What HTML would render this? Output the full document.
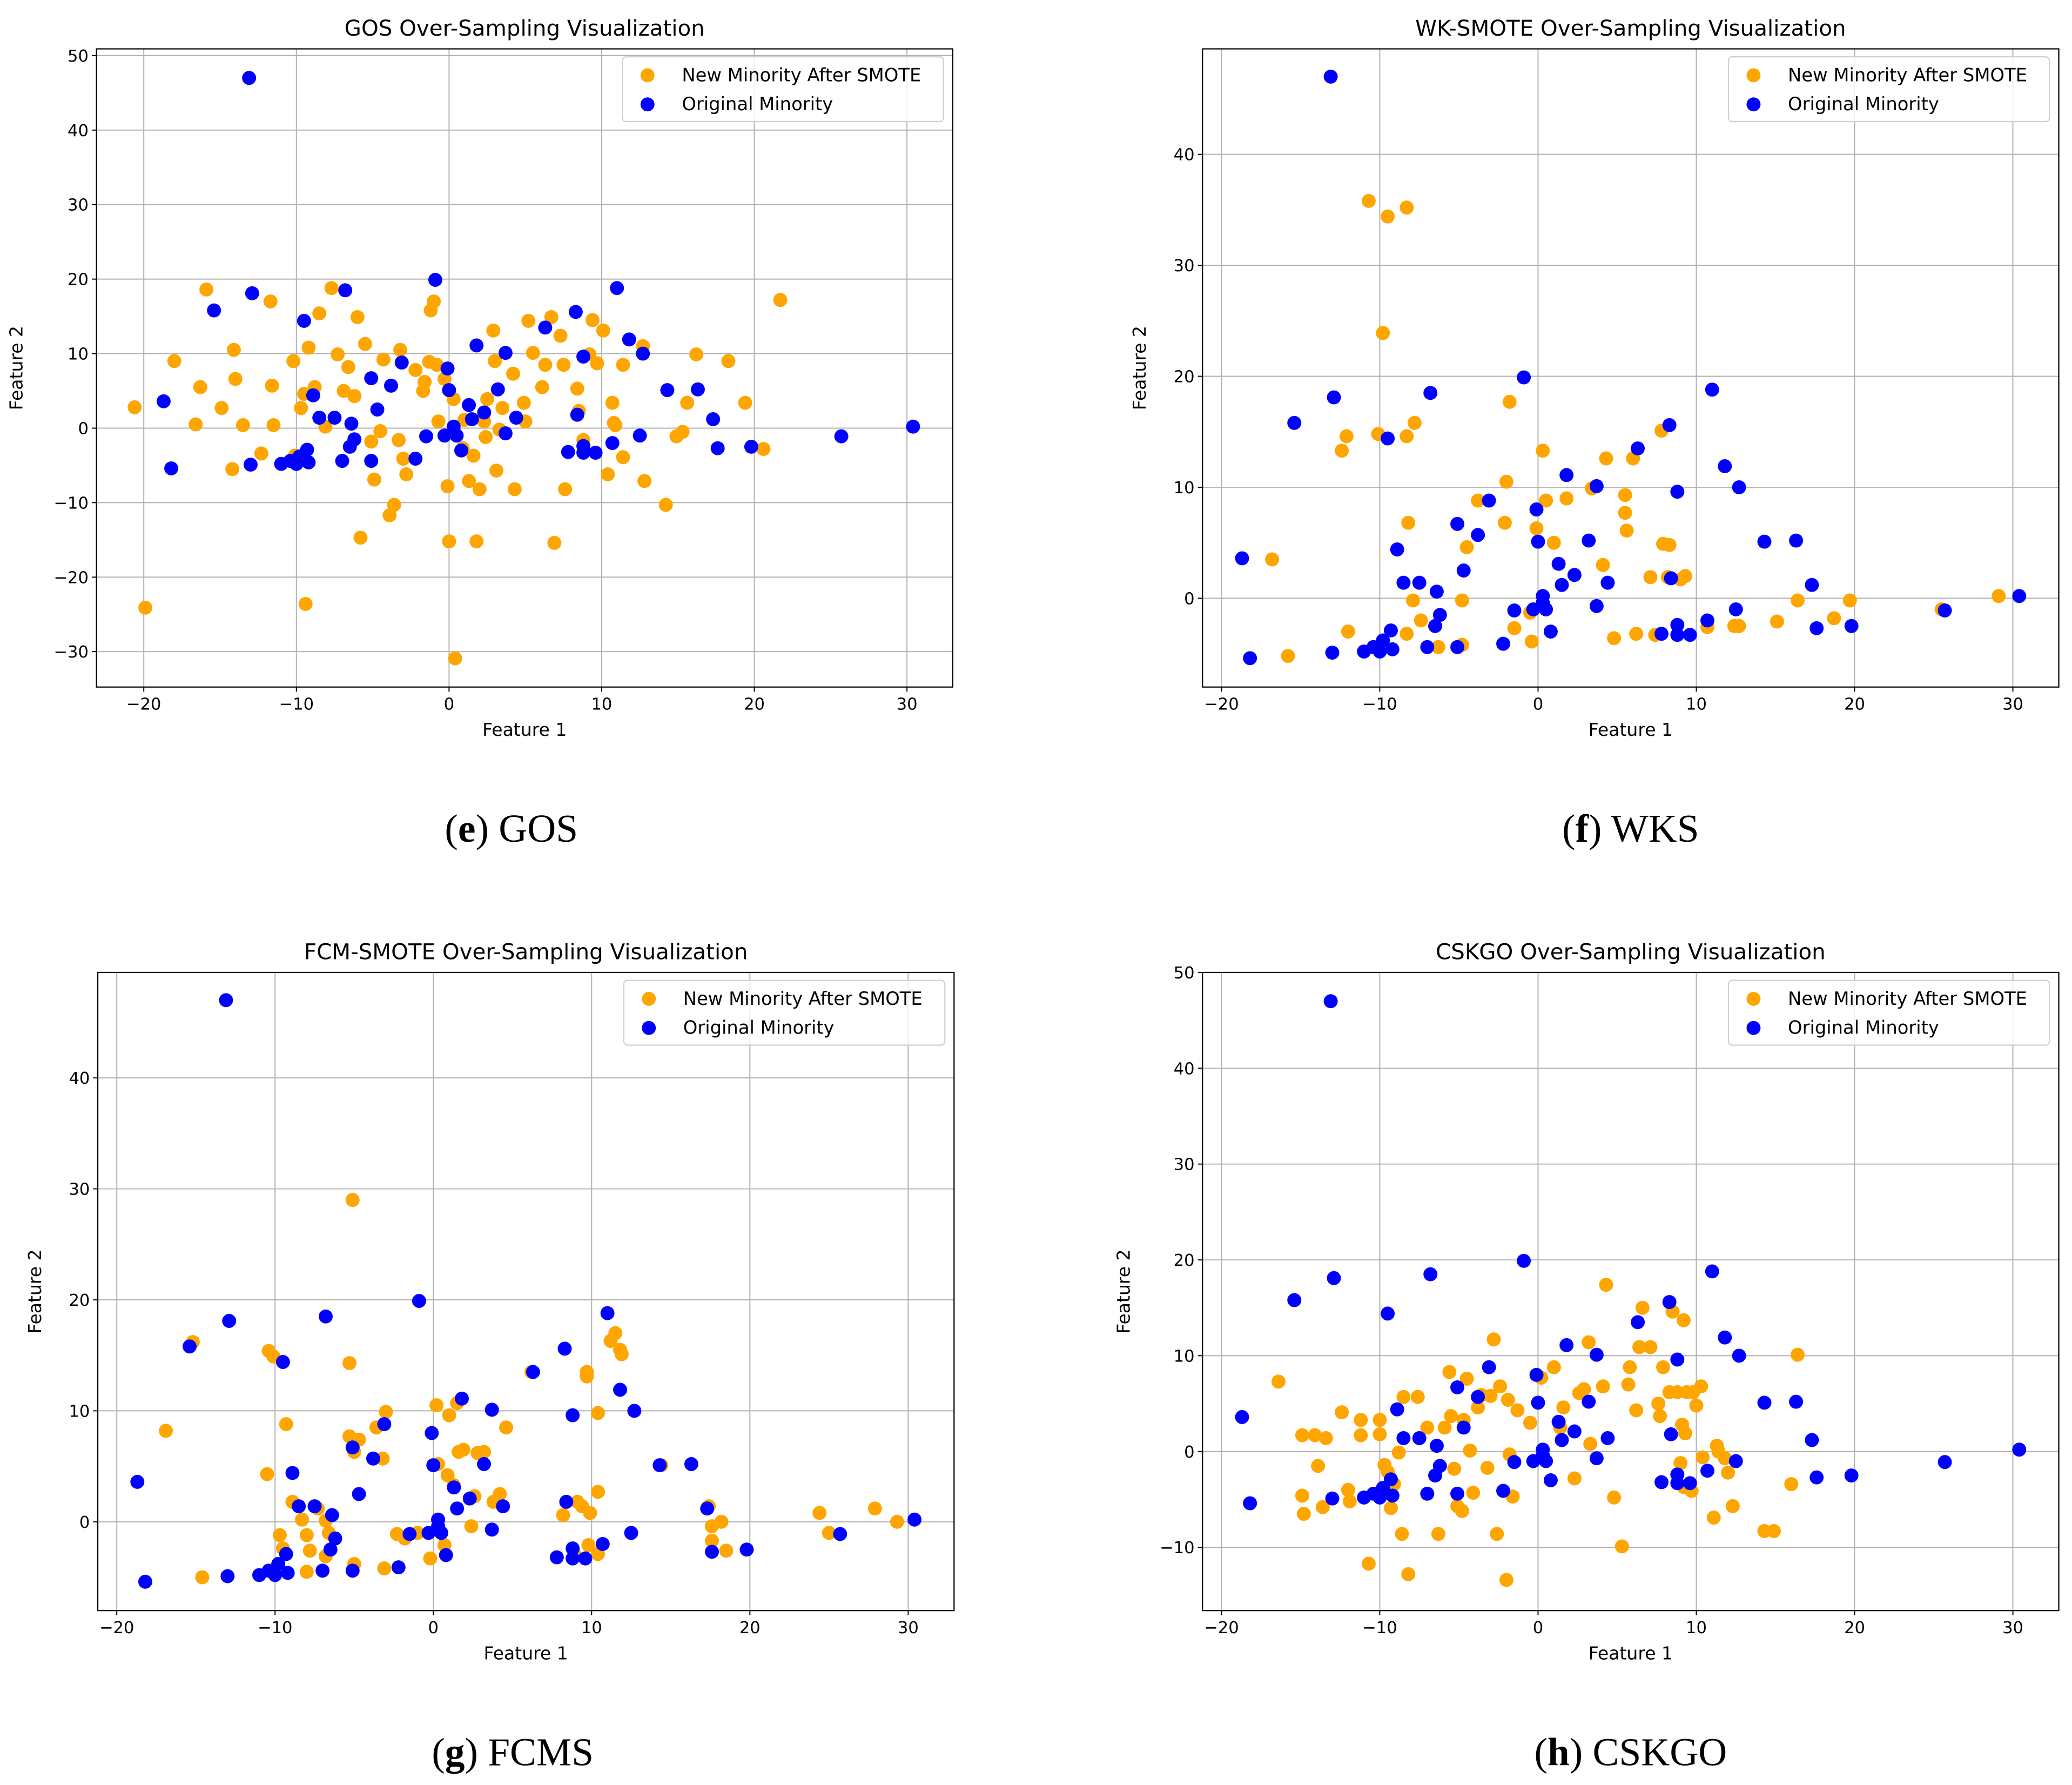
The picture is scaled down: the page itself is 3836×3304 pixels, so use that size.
<!DOCTYPE html>
<html><head><meta charset="utf-8">
<style>
html,body{margin:0;padding:0;background:#fff;}
svg{display:block;}
text{font-family:"DejaVu Sans","Liberation Sans",sans-serif;fill:#000;}
.cap{font-family:"Liberation Serif",serif;}
</style></head>
<body>
<svg id="fig" width="3836" height="3304" viewBox="0 0 1568 1351" preserveAspectRatio="none" xmlns="http://www.w3.org/2000/svg"></svg>
<script>
// Original minority (shared across panels)
const blueX=[-13.1,-18.7,-18.2,-12.9,-15.4,-9.5,-6.8,-0.9,-8.9,-8.5,-7.5,-6.4,-6.2,-6.5,-7.0,-9.3,-9.8,-10.0,-10.4,-11.0,-9.2,-13.0,-5.1,-3.8,-3.1,-4.7,-5.1,-2.2,-1.5,-0.3,-0.1,0,0.3,0.3,0.5,0.8,1.3,1.5,1.8,2.3,3.2,3.7,3.7,4.4,6.3,8.3,7.8,8.4,8.8,8.8,8.8,9.6,10.7,11.0,11.8,12.5,12.7,14.3,16.3,17.3,17.6,19.8,25.7,30.4];
const blueY=[47.0,3.6,-5.4,18.1,15.8,14.4,18.5,19.9,4.4,1.4,1.4,0.6,-1.5,-2.5,-4.4,-2.9,-3.8,-4.8,-4.4,-4.8,-4.6,-4.9,6.7,5.7,8.8,2.5,-4.4,-4.1,-1.1,-1.0,8.0,5.1,0.2,-0.4,-1.0,-3.0,3.1,1.2,11.1,2.1,5.2,10.1,-0.7,1.4,13.5,15.6,-3.2,1.8,9.6,-2.4,-3.3,-3.3,-2.0,18.8,11.9,-1.0,10.0,5.1,5.2,1.2,-2.7,-2.5,-1.1,0.2];
// GOS new minority
const gosX=[-20.6,-19.9,-18.0,-16.6,-16.3,-15.9,-14.9,-14.2,-14.1,-14.0,-13.5,-12.3,-11.7,-11.6,-11.5,-10.2,-10.1,-9.7,-9.5,-9.4,-9.2,-8.8,-8.5,-8.1,-7.7,-7.3,-6.9,-6.6,-6.2,-6.0,-5.8,-5.5,-5.1,-4.9,-4.5,-4.3,-3.9,-3.6,-3.3,-3.0,-2.8,-3.2,-2.2,-1.7,-1.6,-1.3,-1.2,-1.0,-0.8,-0.7,-0.3,-0.1,0,0.3,0.4,0.9,1.0,1.3,1.6,1.8,2.0,2.3,2.4,2.5,2.9,3.0,3.1,3.3,3.5,4.2,4.3,4.9,5.0,5.2,5.5,6.1,6.3,6.7,6.9,7.3,7.5,7.6,8.4,8.5,8.8,9.2,9.4,9.7,10.1,10.4,10.7,10.8,10.9,11.4,11.4,12.7,12.8,14.2,14.9,15.3,15.6,16.2,18.3,19.4,20.6,21.7];
const gosY=[2.8,-24.1,9.0,0.5,5.5,18.6,2.7,-5.5,10.5,6.6,0.4,-3.4,17.0,5.7,0.4,9.0,-3.7,2.7,4.6,-23.6,10.8,5.5,15.4,0.2,18.8,9.9,5.0,8.2,4.3,14.9,-14.7,11.3,-1.8,-6.9,-0.4,9.2,-11.7,-10.3,-1.6,-4.1,-6.2,10.5,7.8,5.0,6.2,8.9,15.8,17.0,8.5,0.9,6.6,-7.8,-15.2,3.9,-30.9,-2.7,1.1,-7.1,-3.7,-15.2,-8.2,0.9,-1.2,3.9,13.1,9.0,-5.7,-0.2,2.7,7.3,-8.2,3.4,0.9,14.4,10.1,5.5,8.5,14.9,-15.4,12.4,8.5,-8.2,5.3,2.3,-1.6,9.9,14.5,8.7,13.1,-6.2,3.4,0.7,0.4,8.5,-3.9,11.0,-7.1,-10.3,-1.1,-0.5,3.4,9.9,9.0,3.4,-2.8,17.2];
// WKS new minority
const wksX=[-10.7,-9.5,-8.3,-9.8,-16.8,-15.8,-12.4,-12.1,-10.1,-8.3,-7.8,-1.8,-12.0,-8.2,-7.9,-7.4,-8.3,-6.3,-4.8,-3.8,-4.5,-4.8,-2.0,-2.1,-1.5,-0.5,-0.4,-0.1,0.3,0.5,1.0,1.8,3.4,4.3,4.1,4.8,5.5,5.5,5.6,6.0,6.2,7.1,7.4,7.8,7.9,8.3,8.2,9.0,9.3,10.7,12.4,12.7,15.1,16.4,18.7,19.7,25.5,29.1];
const wksY=[35.8,34.4,35.2,23.9,3.5,-5.2,13.3,14.6,14.8,14.6,15.8,17.7,-3.0,6.8,-0.2,-2.0,-3.2,-4.4,-4.2,8.8,4.6,-0.2,10.5,6.8,-2.7,-1.3,-3.9,6.3,13.3,8.8,5.0,9.0,9.9,12.6,3.0,-3.6,9.3,7.7,6.1,12.6,-3.2,1.9,-3.3,15.1,4.9,4.8,1.9,1.7,2.0,-2.6,-2.5,-2.5,-2.1,-0.2,-1.8,-0.2,-1.0,0.2];
// FCMS new minority
const fcmX=[-5.1,-15.2,-16.9,-10.4,-10.1,-10.5,-9.3,-5.3,-5.3,-4.7,-5.0,-3.6,-3.0,-3.2,-14.6,-9.7,-9.5,-8.9,-8.3,-8.0,-7.8,-8.0,-7.3,-6.8,-6.6,-6.8,-5.0,-3.1,-2.3,-1.8,-1.0,-0.2,0.2,0.3,0.7,0.9,1.0,1.3,1.5,1.6,1.9,2.4,2.6,2.8,3.2,3.8,4.2,4.6,6.2,9.1,8.2,9.7,9.7,9.4,9.9,10.4,10.4,11.2,11.5,11.8,11.9,9.8,10.4,8.9,14.4,17.4,17.6,17.6,18.2,18.5,24.4,25.0,27.9,29.3];
const fcmY=[29.0,16.2,8.2,15.4,14.9,4.3,8.8,14.3,7.7,7.4,6.3,8.5,9.9,5.7,-5.0,-1.2,-2.4,1.8,0.2,-1.2,-2.6,-4.5,1.2,0.1,-1.0,-3.1,-3.8,-4.2,-1.1,-1.5,-1.0,-3.3,10.5,5.2,-2.1,4.2,9.6,3.3,10.7,6.3,6.5,-0.4,2.3,6.2,6.3,1.8,2.5,8.5,13.5,1.8,0.6,13.5,13.1,1.4,0.8,2.7,9.8,16.3,17.0,15.5,15.1,-2.1,-2.9,-2.9,5.1,1.4,-0.4,-1.7,0,-2.6,0.8,-1.0,1.2,0];
// CSKGO new minority
const cskX=[-16.4,-14.9,-14.1,-14.9,-14.8,-13.9,-13.6,-13.4,-12.4,-11.9,-12.0,-11.2,-11.2,-10.7,-10.0,-10.0,-9.7,-9.5,-9.3,-9.1,-8.8,-8.6,-8.5,-8.2,-7.6,-7.0,-6.3,-5.9,-5.6,-5.5,-5.3,-5.1,-4.8,-4.7,-4.5,-4.3,-4.1,-3.8,-3.6,-3.2,-3.0,-2.8,-2.6,-2.4,-2.0,-1.9,-1.8,-1.6,-1.3,-0.5,0.2,1.0,1.4,1.6,2.3,2.6,2.9,3.2,3.3,4.1,4.3,4.8,5.3,5.7,5.8,6.2,6.4,6.6,7.1,7.6,7.7,7.9,8.3,8.8,8.5,9.2,9.1,9.3,9.4,9.8,10.0,9.2,9.0,9.7,10.3,10.4,11.3,11.4,11.1,11.8,12.0,12.3,14.3,14.9,16.0,16.4];
const cskY=[7.3,1.7,1.7,-4.6,-6.5,-1.5,-5.8,1.4,4.1,-5.2,-4.0,3.3,1.7,-11.7,3.3,1.8,-1.4,-2.1,-5.9,-3.4,-0.1,-8.6,5.7,-12.8,5.7,2.5,-8.6,2.5,8.3,3.7,-1.8,-5.7,-6.2,3.3,7.6,0.1,-4.3,4.6,5.9,-1.7,5.8,11.7,-8.6,6.8,-13.4,5.4,-0.3,-4.7,4.3,3.0,7.7,8.8,2.5,4.6,-2.8,6.1,6.5,11.4,0.8,6.8,17.4,-4.8,-9.9,7.0,8.8,4.3,10.9,15.0,10.9,5.0,3.7,8.8,6.2,6.2,14.6,13.7,2.8,1.9,6.2,6.2,4.8,-3.7,-1.2,-4.1,6.8,-0.6,0.6,0,-6.9,-0.7,-2.2,-5.7,-8.3,-8.3,-3.4,10.1];
const xTicks=[-20,-10,0,10,20,30];
const yTicksGOS=[-30,-20,-10,0,10,20,30,40,50];
const yTicks4=[0,10,20,30,40];
const yTicksCSK=[-10,0,10,20,30,40,50];

const NS='http://www.w3.org/2000/svg';
const svg=document.getElementById('fig');
function mk(tag,attrs,parent){const e=document.createElementNS(NS,tag);for(const k in attrs)e.setAttribute(k,attrs[k]);(parent||svg).appendChild(e);return e;}

const panels=[
 {id:'gos',title:'GOS Over-Sampling Visualization',L:73,R:721,T:37,B:520,x0:-23.1,x1:33.0,y0:-34.75,y1:50.9,yt:yTicksGOS,ox:gosX,oy:gosY,ylx:17,cap:['e','GOS']},
 {id:'wks',title:'WK-SMOTE Over-Sampling Visualization',L:910,R:1558,T:37,B:520,x0:-21.2,x1:32.9,y0:-8.0,y1:49.5,yt:yTicks4,ox:wksX,oy:wksY,ylx:867,cap:['f','WKS']},
 {id:'fcms',title:'FCM-SMOTE Over-Sampling Visualization',L:74,R:722,T:736,B:1219,x0:-21.2,x1:32.9,y0:-8.0,y1:49.5,yt:yTicks4,ox:fcmX,oy:fcmY,ylx:31,cap:['g','FCMS']},
 {id:'cskgo',title:'CSKGO Over-Sampling Visualization',L:910,R:1558,T:736,B:1219,x0:-21.2,x1:32.9,y0:-16.6,y1:50.0,yt:yTicksCSK,ox:cskX,oy:cskY,ylx:855,cap:['h','CSKGO']}
];

panels.forEach(p=>{
 const g=mk('g',{});
 
 
 const sx=v=>p.L+(v-p.x0)/(p.x1-p.x0)*(p.R-p.L);
 const sy=v=>p.B-(v-p.y0)/(p.y1-p.y0)*(p.B-p.T);
 xTicks.forEach(t=>{const x=sx(t);
  const l=mk('line',{x1:x,x2:x,y1:p.T,y2:p.B,stroke:'#b0b0b0','stroke-width':0.8},g);
  
  mk('line',{x1:x,x2:x,y1:p.B,y2:p.B+3.5,stroke:'#000','stroke-width':0.8},g);
  const tx=mk('text',{x:x,y:p.B+17,'font-size':12.5,'text-anchor':'middle'},g);tx.textContent=String(t).replace('-','\u2212');
  
 });
 p.yt.forEach(t=>{const y=sy(t);
  const l=mk('line',{x1:p.L,x2:p.R,y1:y,y2:y,stroke:'#b0b0b0','stroke-width':0.8},g);
  
  mk('line',{x1:p.L-3.5,x2:p.L,y1:y,y2:y,stroke:'#000','stroke-width':0.8},g);
  const tx=mk('text',{x:p.L-6,y:y+4.5,'font-size':12.5,'text-anchor':'end'},g);tx.textContent=String(t).replace('-','\u2212');
  
 });
 p.ox.forEach((v,i)=>{const c=mk('circle',{cx:sx(v),cy:sy(p.oy[i]),r:5.3,fill:'#ffa500'},g);
  });
 blueX.forEach((v,i)=>{const c=mk('circle',{cx:sx(v),cy:sy(blueY[i]),r:5.3,fill:'#0000ff'},g);
  });
 const fr=mk('rect',{x:p.L,y:p.T,width:p.R-p.L,height:p.B-p.T,fill:'none',stroke:'#000','stroke-width':0.9},g);
 
 const ti=mk('text',{x:(p.L+p.R)/2,y:p.T-10,'font-size':16.5,'text-anchor':'middle'},g);ti.textContent=p.title;
 
 const xl=mk('text',{x:(p.L+p.R)/2,y:p.B+37,'font-size':13.5,'text-anchor':'middle'},g);xl.textContent='Feature 1';
 
 const cy=(p.T+p.B)/2;
 const yl=mk('text',{x:p.ylx,y:cy,'font-size':13.5,'text-anchor':'middle',transform:`rotate(-90 ${p.ylx} ${cy})`},g);yl.textContent='Feature 2';
 
 const lg=mk('g',{},g);
 
 const lx=p.R-250, ly=p.T+6;
 mk('rect',{x:lx,y:ly,width:243,height:49,rx:3,fill:'#fff','fill-opacity':0.8,stroke:'#d0d0d0','stroke-width':0.9},lg);
 mk('circle',{cx:lx+19,cy:ly+14,r:5.3,fill:'#ffa500'},lg);
 mk('circle',{cx:lx+19,cy:ly+36,r:5.3,fill:'#0000ff'},lg);
 const t1=mk('text',{x:lx+45,y:ly+18.5,'font-size':13.8},lg);t1.textContent='New Minority After SMOTE';
 
 const t2=mk('text',{x:lx+45,y:ly+40.5,'font-size':13.8},lg);t2.textContent='Original Minority';
 
 const cp=mk('text',{x:(p.L+p.R)/2-(p.id==='gos'||p.id==='fcms'?10:0),y:p.B+117,'font-size':30,'text-anchor':'middle',class:'cap'},g);
 
 const b=document.createElementNS(NS,'tspan');b.setAttribute('font-weight','bold');b.textContent=p.cap[0];
 cp.appendChild(document.createTextNode('('));cp.appendChild(b);cp.appendChild(document.createTextNode(') '+p.cap[1]));
});
</script>
</body></html>
